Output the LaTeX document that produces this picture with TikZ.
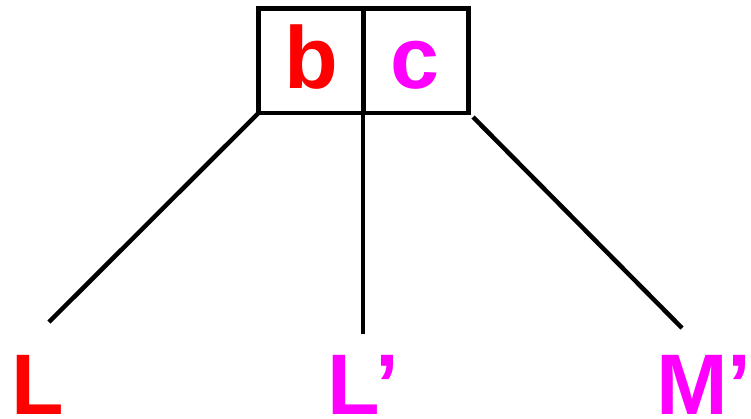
\documentclass[tikz,border=0pt]{standalone}
\usepackage{fontspec}
\setmainfont{Liberation Sans}
\definecolor{myred}{RGB}{255,0,0}
\definecolor{mymag}{RGB}{255,0,255}
\begin{document}
\begin{tikzpicture}[x=1pt,y=-1pt,
  cell/.style={draw=black,line width=4.5pt,minimum width=104.5pt,minimum height=104.5pt,inner sep=0pt,outer sep=0pt},
  lbl/.style={inner sep=0pt,anchor=base west,font=\fontsize{86}{86}\selectfont\bfseries},
  celltxt/.style={inner sep=0pt,anchor=base,font=\fontsize{88}{88}\selectfont\bfseries},
  conn/.style={line width=4.5pt}]
\useasboundingbox (0,0) rectangle (751,418);
\node[cell] (bc) at (310.75,60.75) {};
\node[cell] (cc) at (416,60.75) {};
\node[celltxt,text=myred] (bt) at (311,88) {b};
\node[celltxt,text=mymag] (ct) at (415,88) {c};
\coordinate (e1) at (49,322);
\coordinate (e2) at (363,334);
\coordinate (e3) at (682,328);
\coordinate (s3) at (473,117);
\draw[conn] (bc.south west) -- (e1);
\draw[conn] (bc.south east) -- (e2);
\draw[conn] (s3) -- (e3);
\node[lbl,text=myred] (L) at (11,414) {L};
\node[lbl,text=mymag] (Lp) at (327,414) {L’};
\node[lbl,text=mymag] (Mp) at (656,414) {M’};
\end{tikzpicture}
\end{document}
